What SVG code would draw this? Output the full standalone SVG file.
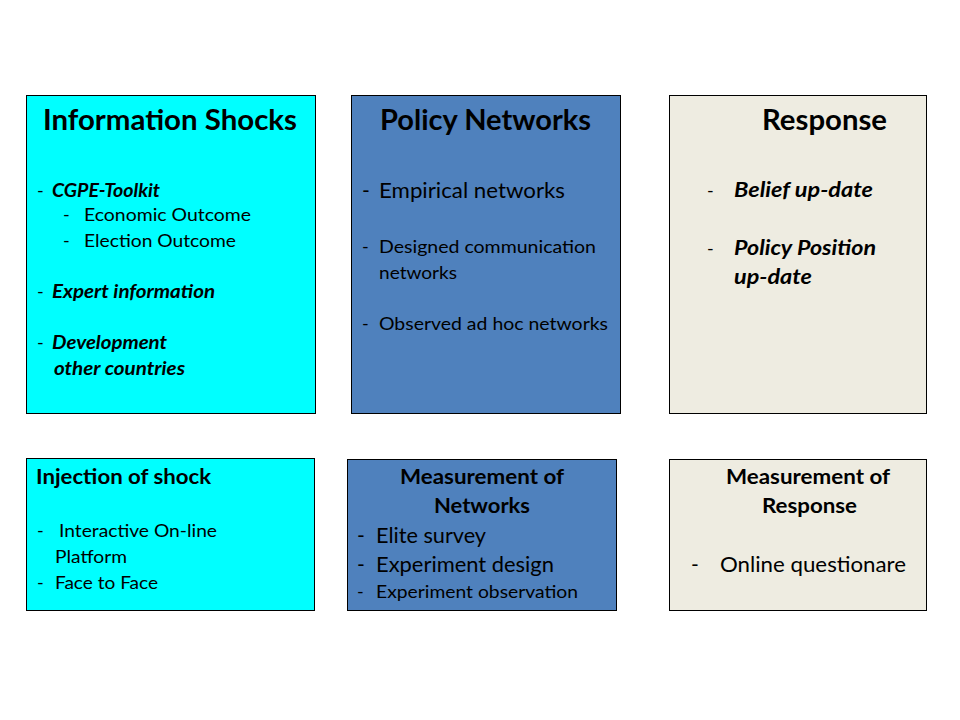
<svg xmlns="http://www.w3.org/2000/svg" width="960" height="720" viewBox="0 0 960 720">
  <style>
    .box { stroke: #000; stroke-width: 1; }
    .cyan { fill: #00FFFF; }
    .blue { fill: #4F81BD; }
    .beige { fill: #EEECE1; }
    text { font-family: Lato, "Open Sans", sans-serif; fill: #000; }
    .title { font-size: 28px; font-weight: bold; }
    .sub { font-size: 20px; font-weight: bold; }
    .bi { font-size: 18px; font-weight: bold; font-style: italic; }
    .bi2 { font-size: 20px; font-weight: bold; font-style: italic; }
    .r18 { font-size: 18px; }
    .r21 { font-size: 21px; }
  </style>
  <rect width="960" height="720" fill="#FFFFFF"/>

  <g id="information-shocks">
    <rect class="box cyan" x="26.500" y="95.500" width="289" height="318"/>
    <text class="title" x="43" y="130" textLength="254" lengthAdjust="spacingAndGlyphs">Information Shocks</text>
    <text class="r18" x="37" y="197">-</text>
    <text class="bi" x="52" y="197" textLength="108" lengthAdjust="spacingAndGlyphs">CGPE-Toolkit</text>
    <text class="r18" x="63" y="221">-</text>
    <text class="r18" x="84" y="221" textLength="167" lengthAdjust="spacingAndGlyphs">Economic Outcome</text>
    <text class="r18" x="63" y="247">-</text>
    <text class="r18" x="84" y="247" textLength="152" lengthAdjust="spacingAndGlyphs">Election Outcome</text>
    <text class="r18" x="37" y="298">-</text>
    <text class="bi" x="52" y="298" textLength="163" lengthAdjust="spacingAndGlyphs">Expert information</text>
    <text class="r18" x="37" y="349">-</text>
    <text class="bi" x="52" y="349" textLength="115" lengthAdjust="spacingAndGlyphs">Development</text>
    <text class="bi" x="54" y="375" textLength="131" lengthAdjust="spacingAndGlyphs">other countries</text>
  </g>

  <g id="policy-networks">
    <rect class="box blue" x="351.500" y="95.500" width="269" height="318"/>
    <text class="title" x="380" y="130" textLength="211" lengthAdjust="spacingAndGlyphs">Policy Networks</text>
    <text class="r21" x="362" y="198">-</text>
    <text class="r21" x="379" y="198" textLength="186" lengthAdjust="spacingAndGlyphs">Empirical networks</text>
    <text class="r18" x="362" y="253">-</text>
    <text class="r18" x="379" y="253" textLength="217" lengthAdjust="spacingAndGlyphs">Designed communication</text>
    <text class="r18" x="379" y="279" textLength="78" lengthAdjust="spacingAndGlyphs">networks</text>
    <text class="r18" x="362" y="330">-</text>
    <text class="r18" x="379" y="330" textLength="229" lengthAdjust="spacingAndGlyphs">Observed ad hoc networks</text>
  </g>

  <g id="response">
    <rect class="box beige" x="669.500" y="95.500" width="257" height="318"/>
    <text class="title" x="762" y="130" textLength="125" lengthAdjust="spacingAndGlyphs">Response</text>
    <text class="r18" x="707" y="197">-</text>
    <text class="bi2" x="734" y="197" textLength="139" lengthAdjust="spacingAndGlyphs">Belief up-date</text>
    <text class="r18" x="707" y="255">-</text>
    <text class="bi2" x="734" y="255" textLength="142" lengthAdjust="spacingAndGlyphs">Policy Position</text>
    <text class="bi2" x="734" y="284" textLength="78" lengthAdjust="spacingAndGlyphs">up-date</text>
  </g>

  <g id="injection-of-shock">
    <rect class="box cyan" x="26.500" y="458.500" width="288" height="152"/>
    <text class="sub" x="36" y="484" textLength="175" lengthAdjust="spacingAndGlyphs">Injection of shock</text>
    <text class="r18" x="37" y="537">-</text>
    <text class="r18" x="59" y="537" textLength="158" lengthAdjust="spacingAndGlyphs">Interactive On-line</text>
    <text class="r18" x="55" y="563" textLength="72" lengthAdjust="spacingAndGlyphs">Platform</text>
    <text class="r18" x="37" y="589">-</text>
    <text class="r18" x="55" y="589" textLength="103" lengthAdjust="spacingAndGlyphs">Face to Face</text>
  </g>

  <g id="measurement-of-networks">
    <rect class="box blue" x="347.500" y="459.500" width="269" height="151"/>
    <text class="sub" x="400" y="484" textLength="164" lengthAdjust="spacingAndGlyphs">Measurement of</text>
    <text class="sub" x="434" y="513" textLength="96" lengthAdjust="spacingAndGlyphs">Networks</text>
    <text class="r21" x="357" y="543">-</text>
    <text class="r21" x="376" y="543" textLength="110" lengthAdjust="spacingAndGlyphs">Elite survey</text>
    <text class="r21" x="357" y="572">-</text>
    <text class="r21" x="376" y="572" textLength="178" lengthAdjust="spacingAndGlyphs">Experiment design</text>
    <text class="r18" x="357" y="598">-</text>
    <text class="r18" x="376" y="598" textLength="202" lengthAdjust="spacingAndGlyphs">Experiment observation</text>
  </g>

  <g id="measurement-of-response">
    <rect class="box beige" x="669.500" y="459.500" width="257" height="151"/>
    <text class="sub" x="726" y="484" textLength="164" lengthAdjust="spacingAndGlyphs">Measurement of</text>
    <text class="sub" x="762" y="513" textLength="95" lengthAdjust="spacingAndGlyphs">Response</text>
    <text class="r21" x="691" y="572">-</text>
    <text class="r21" x="720" y="572" textLength="186" lengthAdjust="spacingAndGlyphs">Online questionare</text>
  </g>

  <g id="connectors"></g>
</svg>
